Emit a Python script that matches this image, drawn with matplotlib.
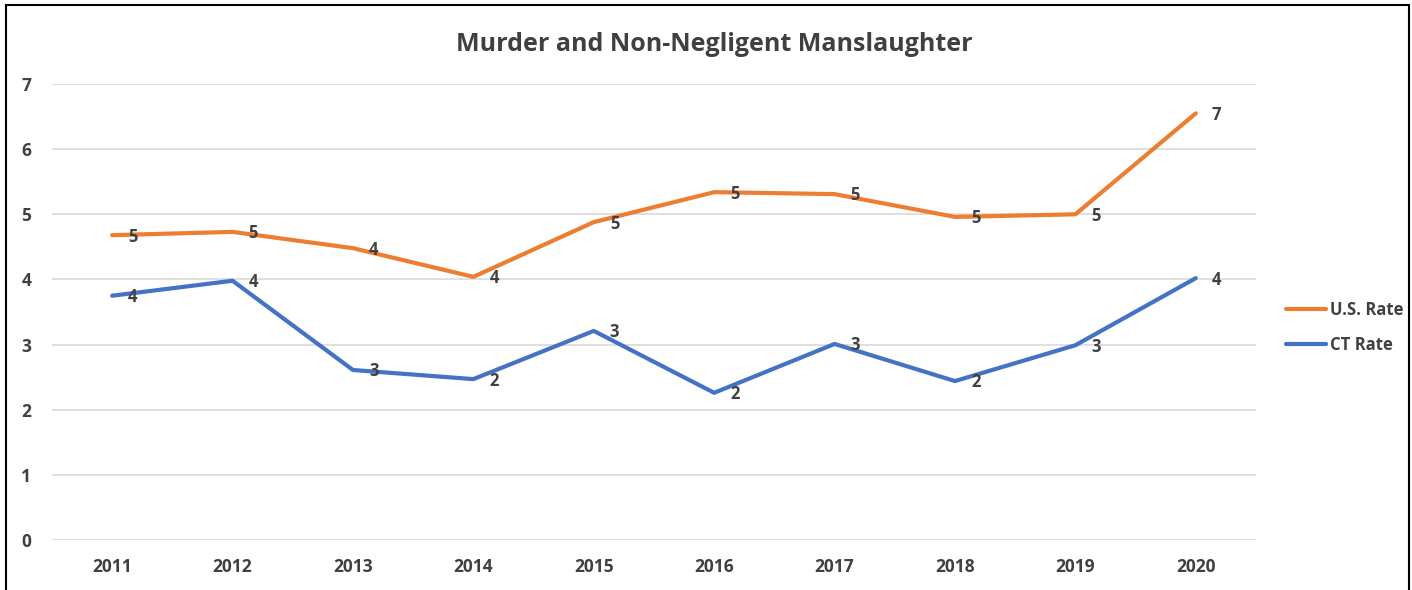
import matplotlib.pyplot as plt
from matplotlib.patches import Rectangle

years   = ["2011", "2012", "2013", "2014", "2015", "2016", "2017", "2018", "2019", "2020"]
us_rate = [4.68, 4.73, 4.48, 4.04, 4.88, 5.34, 5.31, 4.96, 5.00, 6.55]
ct_rate = [3.75, 3.98, 2.61, 2.47, 3.21, 2.26, 3.01, 2.44, 2.99, 4.02]
yticks  = [0, 1, 2, 3, 4, 5, 6, 7]

plt.rcParams["font.family"] = ["Open Sans", "DejaVu Sans"]
plt.rcParams["font.weight"] = "bold"

txt_color = "#404040"
orange    = "#ED7D31"
blue      = "#4472C4"

fig = plt.figure(figsize=(14.12, 5.9), dpi=100)
ax  = fig.add_axes([0.0368, 0.0847, 0.8527, 0.7729])

x = list(range(len(years)))
ax.plot(x, us_rate, color=orange, lw=3, solid_capstyle="round", label="U.S. Rate", zorder=3)
ax.plot(x, ct_rate, color=blue, lw=3, solid_capstyle="round", label="CT Rate", zorder=3)

# data labels, rounded like the excel chart
for xs, ys in [(x, us_rate), (x, ct_rate)]:
    for xi, yi in zip(xs, ys):
        ax.annotate(f"{yi:.0f}", (xi, yi), xytext=(15, -1), textcoords="offset points",
                    ha="center", va="center", fontsize=12, fontweight="bold",
                    color=txt_color, zorder=4)

ax.set_xlim(-0.5, len(years) - 0.5)
ax.set_ylim(0, 7)
ax.set_xticks(x)
ax.set_xticklabels(years, fontweight="bold")
ax.set_yticks(yticks)
ax.set_yticklabels([str(t) for t in yticks], fontweight="bold")
ax.tick_params(length=0, labelsize=12.5, labelcolor=txt_color)
ax.tick_params(axis="x", pad=13)
ax.tick_params(axis="y", pad=15)
ax.grid(axis="y", color="#D9D9D9", lw=1.2)
ax.set_axisbelow(True)
for s in ax.spines.values():
    s.set_visible(False)

fig.text(0.506, 0.925, "Murder and Non-Negligent Manslaughter", ha="center", va="center",
         fontsize=18, fontweight="bold", color=txt_color)

leg = fig.legend(loc="center left", bbox_to_anchor=(0.911, 0.445), frameon=False,
                 handlelength=2.4, handletextpad=0.2, labelspacing=1.0,
                 borderpad=0, borderaxespad=0, labelcolor=txt_color,
                 prop={"weight": "bold", "size": 12})

# chart border
fig.patches.append(Rectangle((0.004, -0.01), 0.994, 1.002, transform=fig.transFigure,
                             fill=False, edgecolor="black", lw=1.5))

fig.savefig("out.png", dpi=100)
